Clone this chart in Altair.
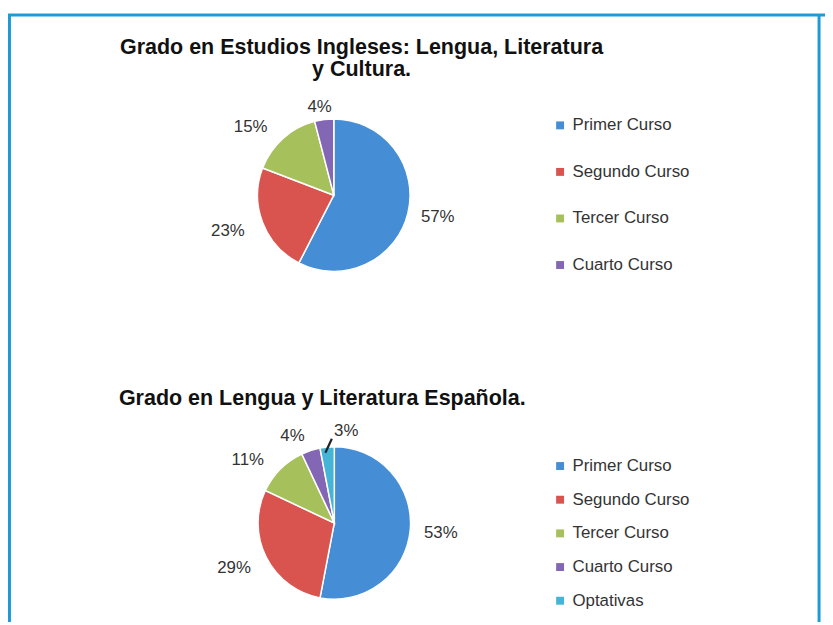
import altair as alt
import pandas as pd

# ---------------- data ----------------
title1_lines = ["Grado en Estudios Ingleses: Lengua, Literatura", "y Cultura."]
title2_lines = ["Grado en Lengua y Literatura Española."]

cursos1 = ["Primer Curso", "Segundo Curso", "Tercer Curso", "Cuarto Curso"]
pct1 = [57, 23, 15, 4]
colors1 = ["#458ed5", "#d9544f", "#a6c15c", "#8467b4"]

cursos2 = ["Primer Curso", "Segundo Curso", "Tercer Curso", "Cuarto Curso", "Optativas"]
pct2 = [53, 29, 11, 4, 3]
colors2 = ["#458ed5", "#d9544f", "#a6c15c", "#8467b4", "#46b4d6"]

FONT = "Liberation Sans"
TXT = "#333333"
FRAME = "#1d9bd8"
W, H = 825, 617
R = 77


def make_df(cursos, pct):
    df = pd.DataFrame({"curso": cursos, "pct": pct, "orden": list(range(len(cursos)))})
    df["label"] = df["pct"].astype(str) + "%"
    return df


def pie(df, cursos, colors, cx, cy, legend_y, row_pad, text_specs):
    base = alt.Chart(df).encode(
        theta=alt.Theta("pct:Q", stack=True),
        order=alt.Order("orden:Q", sort="ascending"),
    )
    arc = base.mark_arc(radius=R, x=cx, y=cy, stroke="white", strokeWidth=1.5).encode(
        color=alt.Color(
            "curso:N",
            sort=cursos,
            scale=alt.Scale(domain=cursos, range=colors),
            legend=alt.Legend(
                title=None,
                orient="none",
                legendX=549,
                legendY=legend_y,
                symbolType="square",
                symbolSize=64,
                symbolStrokeWidth=0,
                labelFontSize=17,
                labelFont=FONT,
                labelColor=TXT,
                labelOffset=4,
                rowPadding=row_pad,
                labelLimit=300,
            ),
        )
    )
    layers = [arc]
    for expr, rad, dx, dy in text_specs:
        layers.append(
            base.mark_text(
                radius=rad, x=cx, y=cy, dx=dx, dy=dy, fontSize=17, font=FONT, color=TXT,
                align="center", baseline="middle",
            ).encode(text=alt.condition(expr, "label:N", alt.value("")))
        )
    return alt.layer(*layers)


df1 = make_df(cursos1, pct1)
df2 = make_df(cursos2, pct2)

pie1 = pie(df1, cursos1, colors1, 329, 186, 107, 29,
           [("datum.pct == 57", 108, 0, -3),
            ("datum.pct == 23", 108, -6, -2),
            ("datum.pct == 15", 108, -12, 12),
            ("datum.pct == 4", 90, -3, 0)])
pie2 = pie(df2, cursos2, colors2, 329.5, 517, 451, 16,
           [("datum.pct == 53", 108, 0, 0),
            ("datum.pct == 29", 108, -5, -4),
            ("datum.pct == 11", 108, -11, 13),
            ("datum.pct == 4", 98, -12, 5),
            ("datum.pct == 3", 95, 21, 2)])

# leader line for the 3% label
leader = alt.Chart(pd.DataFrame({"k": [0]})).mark_rule(color="#222222", strokeWidth=2.2).encode(
    x=alt.value(320.5), x2=alt.value(327), y=alt.value(446), y2=alt.value(432)
)

# titles
t1 = alt.Chart(pd.DataFrame({"t": ["\n".join(title1_lines)]})).mark_text(
    x=357, y=26, fontSize=21.7, fontWeight="bold", font=FONT, color="#111111",
    align="center", baseline="top", lineBreak="\n", lineHeight=23,
).encode(text="t:N")
t2 = alt.Chart(pd.DataFrame({"t": title2_lines})).mark_text(
    x=112, y=391, fontSize=21.7, fontWeight="bold", font=FONT, color="#111111",
    align="left", baseline="middle",
).encode(text="t:N")

# frame
fr = pd.DataFrame({"k": [0]})
top = alt.Chart(fr).mark_rule(color=FRAME, strokeWidth=3).encode(
    x=alt.value(0), x2=alt.value(W), y=alt.value(4))
left = alt.Chart(fr).mark_rule(color=FRAME, strokeWidth=3).encode(
    x=alt.value(1.5), y=alt.value(4), y2=alt.value(H))
right = alt.Chart(fr).mark_rule(color=FRAME, strokeWidth=3).encode(
    x=alt.value(819), y=alt.value(4), y2=alt.value(H))

chart = alt.layer(top, left, right, t1, t2, pie1, pie2, leader).resolve_scale(
    theta="independent", color="independent"
).properties(
    width=W, height=H, padding=0, autosize=alt.AutoSizeParams(type="none")
).configure_view(stroke=None)

chart.save("out.html", embed_options={"renderer": "svg", "actions": False})
